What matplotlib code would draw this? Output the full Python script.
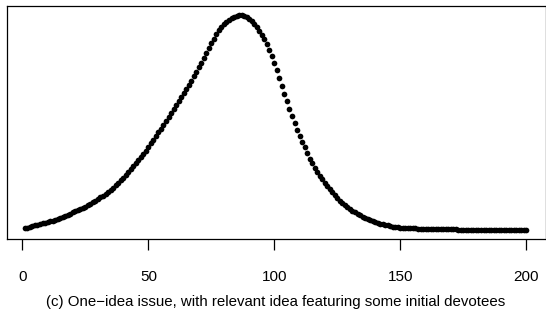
import numpy as np
import matplotlib
matplotlib.use("Agg")
import matplotlib.pyplot as plt

plt.rcParams['font.family'] = ['Liberation Sans', 'DejaVu Sans']

# time steps 1..200
steps = list(range(1, 201))

# followers of the relevant idea
followers = [
    2.7, 3.2, 3.7, 4.3, 4.8, 5.3, 5.8, 6.4, 6.9, 7.5,
    8.0, 8.6, 9.3, 10.1, 10.9, 11.7, 12.5, 13.3, 14.1, 15.0,
    15.8, 16.7, 17.6, 18.4, 19.3, 20.4, 21.5, 22.7, 23.9, 25.2,
    26.6, 28.0, 29.4, 30.9, 32.5, 34.2, 36.0, 37.9, 39.9, 41.9,
    44.0, 46.2, 48.5, 50.8, 53.1, 55.5, 57.9, 60.3, 62.8, 65.6,
    68.5, 71.4, 74.3, 77.2, 80.1, 83.1, 86.1, 89.2, 92.3, 95.4,
    98.5, 101.5, 104.5, 107.6, 110.7, 113.9, 117.2, 120.6, 124.1, 127.7,
    131.4, 135.2, 139.0, 142.8, 146.5, 150.0, 153.3, 156.3, 159.0, 161.3,
    163.2, 164.8, 166.0, 167.0, 167.8, 168.6, 168.3, 167.6, 166.6, 165.2,
    163.5, 161.5, 159.0, 156.2, 153.0, 149.4, 145.5, 141.3, 136.6, 131.2,
    125.4, 119.3, 113.2, 107.2, 101.2, 95.3, 89.8, 84.6, 79.3, 74.6,
    70.0, 65.5, 61.0, 56.8, 53.0, 49.5, 46.0, 43.2, 40.6, 38.0,
    35.4, 33.0, 30.6, 28.3, 26.0, 23.9, 22.2, 20.6, 19.0, 17.5,
    16.2, 15.0, 13.8, 12.6, 11.2, 10.4, 9.6, 8.9, 8.2, 7.5,
    6.8, 6.2, 5.7, 5.2, 4.8, 4.4, 4.0, 3.6, 3.3, 3.1,
    3.0, 3.0, 3.0, 3.0, 3.0, 3.0, 2.0, 2.0, 2.0, 2.0,
    2.0, 2.0, 2.0, 2.0, 2.0, 2.0, 2.0, 2.0, 2.0, 2.0,
    2.0, 2.0, 1.0, 1.0, 1.0, 1.0, 1.0, 1.0, 1.0, 1.0,
    1.0, 1.0, 1.0, 1.0, 1.0, 1.0, 1.0, 1.0, 1.0, 1.0,
    1.0, 1.0, 1.0, 1.0, 1.0, 1.0, 1.0, 1.0, 1.0, 1.0,
]

xticks = [0, 50, 100, 150, 200]
caption = "(c) One\u2212idea issue, with relevant idea featuring some initial devotees"

W, H = 546, 315
fig = plt.figure(figsize=(W / 100, H / 100), dpi=100)
ax = fig.add_axes([7 / W, 76 / H, 539 / W, 233 / H])

ax.plot(steps, followers, 'o', color='black', markersize=4.1, markeredgewidth=0)

ax.set_xlim(-6.1, 207.8)
lo, hi = min(followers), max(followers)
pad = (hi - lo) * 0.04
ax.set_ylim(lo - pad, hi + pad)

ax.set_xticks(xticks)
ax.set_xticklabels([str(t) for t in xticks], fontsize=11)
ax.tick_params(axis='x', direction='out', length=8, width=0.9, pad=14)
ax.set_yticks([])
for s in ax.spines.values():
    s.set_linewidth(0.9)

fig.text(276 / W, 13 / H, caption, ha='center', va='center', fontsize=10.8)

fig.savefig("out.png", dpi=100)
